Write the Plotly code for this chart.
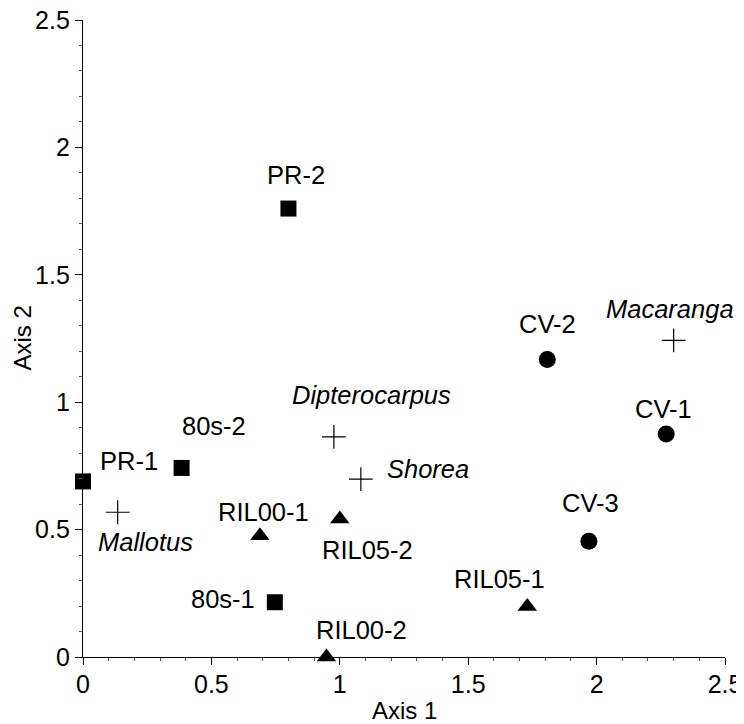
import plotly.graph_objects as go

# Sites
site_names = ["PR-1", "PR-2", "80s-1", "80s-2", "RIL00-1", "RIL00-2", "RIL05-1", "RIL05-2", "CV-1", "CV-2", "CV-3"]
site_x = [0.0, 0.80, 0.747, 0.384, 0.689, 0.948, 1.73, 1.0, 2.271, 1.808, 1.97]
site_y = [0.689, 1.76, 0.215, 0.742, 0.476, 0.0, 0.198, 0.542, 0.875, 1.168, 0.454]
site_group = ["sq", "sq", "sq", "sq", "tri", "tri", "tri", "tri", "cir", "cir", "cir"]

# Species (genera)
genus_names = ["Macaranga", "Dipterocarpus", "Shorea", "Mallotus"]
genus_x = [2.30, 0.977, 1.082, 0.135]
genus_y = [1.243, 0.864, 0.698, 0.568]

x_ticks = [0, 0.5, 1, 1.5, 2, 2.5]
y_ticks = [0, 0.5, 1, 1.5, 2, 2.5]
x_title = "Axis 1"
y_title = "Axis 2"

# label pixel offsets (dx right, dy down)
site_label_off = {
    "PR-1": (46, -20), "PR-2": (8, -34), "80s-1": (-52, -3), "80s-2": (32, -42),
    "RIL00-1": (4, -24), "RIL00-2": (35, -27), "RIL05-1": (-28, -28), "RIL05-2": (28, 31),
    "CV-1": (-3, -25), "CV-2": (0, -35), "CV-3": (2, -38),
}
genus_label_off = {
    "Macaranga": (-4, -31), "Dipterocarpus": (38, -42), "Shorea": (67, -10), "Mallotus": (28, 30),
}

FONT = "Liberation Sans, Arial, Helvetica, sans-serif"
LBL = 25.5
symbol_map = {"sq": "square", "tri": "triangle-up", "cir": "circle"}
size_map = {"sq": 16, "tri": 17, "cir": 17}

# The page body has an 8px margin; compensate so the chart sits like the reference
OFF = 8
W, H = 744 - OFF, 724 - OFF

fig = go.Figure()
for g in ["sq", "tri", "cir"]:
    idx = [i for i, s in enumerate(site_group) if s == g]
    fig.add_trace(go.Scatter(
        x=[site_x[i] for i in idx], y=[site_y[i] for i in idx], mode="markers",
        marker=dict(symbol=symbol_map[g], size=size_map[g], color="black", line=dict(width=0)),
        cliponaxis=False, showlegend=False, hoverinfo="skip"))

fig.add_trace(go.Scatter(
    x=genus_x, y=genus_y, mode="markers",
    marker=dict(symbol="cross-thin", size=17, line=dict(width=1.2, color="black"), color="black"),
    cliponaxis=False, showlegend=False, hoverinfo="skip"))

annos = []
for n, x, y in zip(site_names, site_x, site_y):
    dx, dy = site_label_off[n]
    annos.append(dict(x=x, y=y, text=n, showarrow=False, xshift=dx, yshift=-dy,
                      font=dict(family=FONT, size=LBL, color="black")))
for n, x, y in zip(genus_names, genus_x, genus_y):
    dx, dy = genus_label_off[n]
    annos.append(dict(x=x, y=y, text="<i>" + n + "</i>", showarrow=False, xshift=dx, yshift=-dy,
                      font=dict(family=FONT, size=LBL, color="black")))

# axis titles
annos.append(dict(x=0.5, y=0, xref="paper", yref="paper", text=x_title, showarrow=False,
                  yanchor="middle", yshift=-53, font=dict(family=FONT, size=24, color="black")))
annos.append(dict(x=0, y=0.5, xref="paper", yref="paper", text=y_title, showarrow=False,
                  xanchor="center", xshift=-61, textangle=-90,
                  font=dict(family=FONT, size=24, color="black")))

axis_common = dict(
    showgrid=False, zeroline=False, showline=True, linecolor="black", linewidth=1.3,
    ticks="outside", ticklen=7, tickwidth=1, tickcolor="black", automargin=False,
    ticklabeloverflow="allow",
    tickfont=dict(family=FONT, size=25, color="black"),
    minor=dict(ticks="outside", ticklen=3, tickwidth=1, tickcolor="#555", dtick=0.1),
)

fig.update_layout(
    width=W, height=H,
    margin=dict(l=83 - OFF, r=W - (725.5 - OFF), t=20 - OFF, b=H - (657 - OFF)),
    paper_bgcolor="white", plot_bgcolor="white",
    annotations=annos,
    xaxis=dict(range=[0, 2.5], tickvals=x_ticks, ticktext=[f"{v:g}" for v in x_ticks],
               ticklabelstandoff=-2, **axis_common),
    yaxis=dict(range=[0, 2.5], tickvals=y_ticks, ticktext=[f"{v:g}" for v in y_ticks],
               **axis_common),
)

fig.write_html("out.html")
